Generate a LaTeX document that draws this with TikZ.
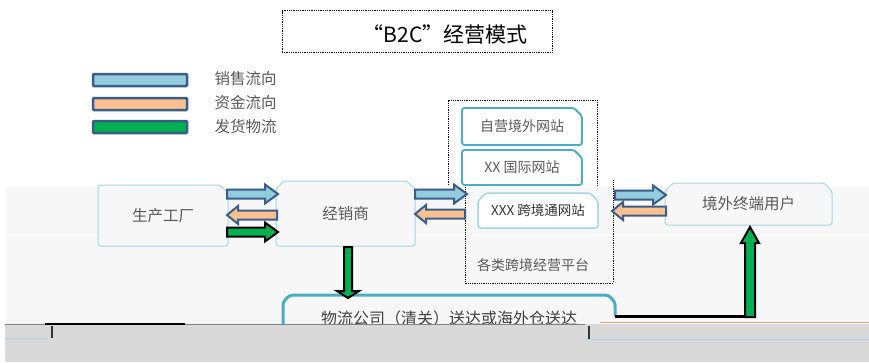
\documentclass[tikz,border=0pt]{standalone}
\usepackage{fontspec}
\setmainfont{Noto Sans CJK SC}
\usetikzlibrary{shapes.misc}
\definecolor{legborder}{HTML}{3A5E8C}
\definecolor{salesblue}{HTML}{93CDDD}
\definecolor{moneyor}{HTML}{FAC08F}
\definecolor{shipgreen}{HTML}{00B050}
\definecolor{tealb}{HTML}{4BACC6}
\definecolor{lightb}{HTML}{A5D6E4}
\definecolor{txtgrey}{HTML}{595959}
\definecolor{bandgrey}{HTML}{F7F7F7}
\definecolor{botgrey}{HTML}{D9D9D9}
\newcommand\myRarrow[5]{\filldraw[fill=#4,draw=#5,line width=2pt,line join=miter]
 (#1,#3-4.5) -- (#2-13,#3-4.5) -- (#2-13,#3-9.5) -- (#2,#3) -- (#2-13,#3+9.5) -- (#2-13,#3+4.5) -- (#1,#3+4.5) -- cycle;}
\newcommand\myLarrow[5]{\filldraw[fill=#4,draw=#5,line width=2pt,line join=miter]
 (#2,#3-4.5) -- (#1+11,#3-4.5) -- (#1+11,#3-9) -- (#1,#3) -- (#1+11,#3+9) -- (#1+11,#3+4.5) -- (#2,#3+4.5) -- cycle;}
\tikzset{
 legbar/.style={draw=legborder,line width=2.5pt,rounded corners=1pt},
 legtxt/.style={anchor=west,text=txtgrey,font=\fontsize{15.5}{16}\selectfont},
 nodebox/.style={chamfered rectangle,draw=lightb,line width=1pt,fill=bandgrey,inner sep=0pt,rounded corners=2.5pt,
   chamfered rectangle xsep=4pt,chamfered rectangle ysep=4pt,text=txtgrey,font=\fontsize{15.5}{16}\selectfont},
 sitebox/.style={chamfered rectangle,draw=tealb,line width=1.8pt,fill=white,inner sep=0pt,rounded corners=2.5pt,
   chamfered rectangle xsep=4pt,chamfered rectangle ysep=4pt,text=txtgrey,font=\fontsize{14}{15}\selectfont},
}
\begin{document}
\begin{tikzpicture}[x=1pt,y=-1pt]
\useasboundingbox (0,0) rectangle (869,362);
\fill[white] (0,0) rectangle (869,362);
\fill[bandgrey] (6,187) rectangle (869,324);
\draw[white,line width=1pt] (6,235) -- (869,235);
% title
\node (title) [draw,densely dotted,line width=0.8pt,minimum width=270pt,minimum height=42pt] at (417,31.5) {};
\node (titletext) at (445,34) {\fontsize{21}{22}\selectfont “B2C”经营模式};
% legend
\draw[legbar,fill=salesblue] (93,74) rectangle (187,86);
\draw[legbar,fill=moneyor] (93,98) rectangle (187,110);
\draw[legbar,fill=shipgreen] (93,121) rectangle (187,133);
\node[legtxt] (l1) at (211,79) {销售流向};
\node[legtxt] (l2) at (211,103) {资金流向};
\node[legtxt] (l3) at (211,127) {发货物流};
% platform dotted frame
\draw[densely dotted,line width=0.8pt] (448,185) -- (448,100) -- (597,100) -- (597,185);
\draw[densely dotted,line width=0.8pt] (465,180) -- (465,283) -- (613,283) -- (613,180);
% nodes
\node[nodebox,chamfered rectangle corners={north east},minimum width=130pt,minimum height=61pt] (fac) at (163,215.5) {生产工厂};
\node[nodebox,chamfered rectangle corners={north east,north west},minimum width=139pt,minimum height=65pt] (dist) at (345.5,213.5) {经销商};
\node[nodebox,chamfered rectangle corners={north east,north west},minimum width=167pt,minimum height=42pt] (user) at (748.5,204) {境外终端用户};
\node[sitebox,chamfered rectangle corners={north east},minimum width=120pt,minimum height=37pt] (own) at (522,126.5) {自营境外网站};
\node[sitebox,chamfered rectangle corners={north east},minimum width=120pt,minimum height=35pt] (intl) at (522,167.5) {XX 国际网站};
\node[nodebox,draw=lightb,line width=1.5pt,fill=white,chamfered rectangle corners={north east,north west},minimum width=120pt,minimum height=35pt,font=\fontsize{13.5}{14}\selectfont,text=black!80] (kjt) at (538,210.5) {XXX 跨境通网站};
\node[text=txtgrey,font=\fontsize{14}{15}\selectfont] (plat) at (533,265) {各类跨境经营平台};
% logistics box
\coordinate (logiR) at (615,316);
\filldraw[fill=bandgrey,draw=tealb,line width=3pt,rounded corners=3pt]
 (283,340) -- (283,302) -- (290,295) -- (608,295) -- (615,302) -- (logiR);
\node[text=black!75,font=\fontsize{16}{17}\selectfont] (logi) at (449,318) {物流公司（清关）送达或海外仓送达};
% arrows factory <-> distributor
\myRarrow{227}{278}{194}{salesblue}{legborder}
\myLarrow{227}{277}{215}{moneyor}{legborder}
\myRarrow{227}{278}{232}{shipgreen}{black}
% distributor <-> platform
\myRarrow{415}{467}{194}{salesblue}{legborder}
\myLarrow{415}{465}{214}{moneyor}{legborder}
% platform <-> user
\myRarrow{615}{666}{195}{salesblue}{legborder}
\myLarrow{612}{666}{211}{moneyor}{legborder}
% shipping down
\filldraw[fill=shipgreen,draw=black,line width=2pt,line join=miter]
 (344,247) -- (352,247) -- (352,291) -- (359,291) -- (348,298) -- (337,291) -- (344,291) -- cycle;
% shipping up (elbow)
\draw[black,line width=3pt] (logiR) -- (752,316);
\filldraw[fill=shipgreen,draw=black,line width=2pt,line join=miter]
 (745,317) -- (745,243) -- (741,243) -- (750,227) -- (759,243) -- (755,243) -- (755,317) -- cycle;
% bottom band
\fill[botgrey] (5,324) rectangle (869,362);
\draw[gray,line width=1pt] (5,324) -- (45,324);
\draw[black,line width=2pt] (45,324) -- (185,324);
\draw[gray,line width=1pt] (185,324) -- (585,324);
\draw[lightb,line width=1pt] (5,338) -- (48,338);
\draw[black!80,line width=2.5pt] (52,326) -- (52,338);
\draw[brown!70,line width=1pt] (600,322) -- (869,322);
\draw[lightb,line width=1pt] (585,339) -- (869,339);
\draw[black!80,line width=2.5pt] (589,326) -- (589,339);
\end{tikzpicture}
\end{document}
